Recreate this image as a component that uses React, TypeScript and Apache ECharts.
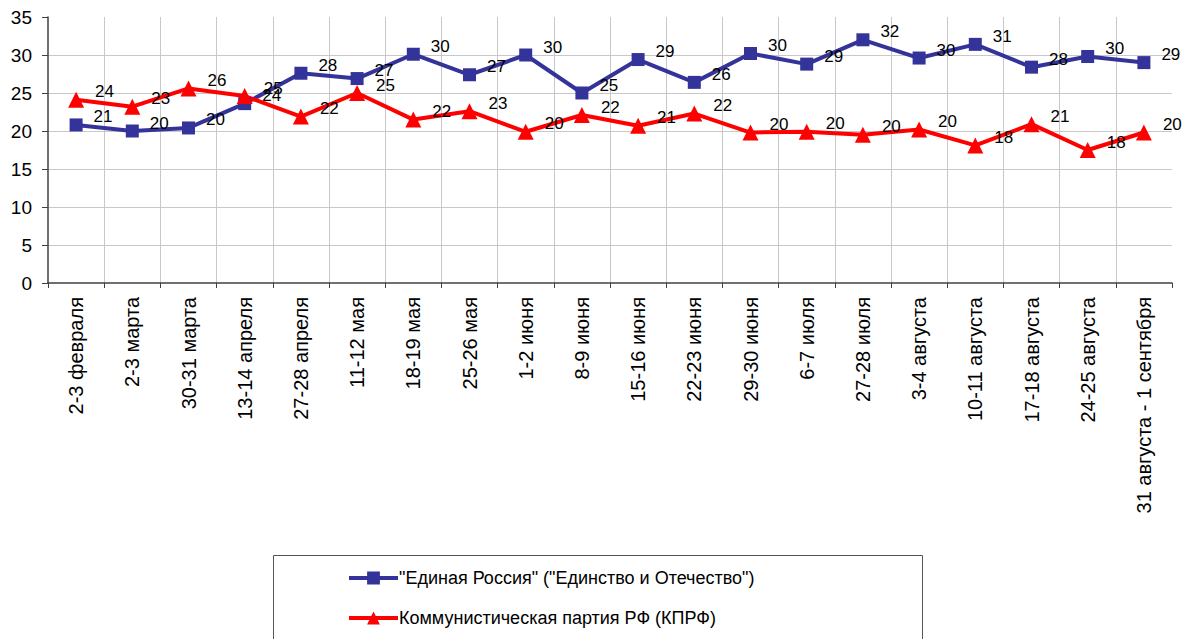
import React, { useEffect, useRef } from "react";
import * as echarts from "echarts";

const categories = [
  "2-3 февраля", "2-3 марта", "30-31 марта", "13-14 апреля", "27-28 апреля",
  "11-12 мая", "18-19 мая", "25-26 мая", "1-2 июня", "8-9 июня",
  "15-16 июня", "22-23 июня", "29-30 июня", "6-7 июля", "27-28 июля",
  "3-4 августа", "10-11 августа", "17-18 августа", "24-25 августа", "31 августа - 1 сентября",
];
const unitedRussia = [20.8, 20.0, 20.4, 23.6, 27.6, 26.9, 30.1, 27.4, 30.0, 25.0, 29.4, 26.4, 30.2, 28.8, 32.0, 29.6, 31.4, 28.4, 29.8, 29.0];
const kprf = [24.1, 23.2, 25.6, 24.6, 21.9, 25.0, 21.5, 22.6, 19.9, 22.1, 20.7, 22.3, 19.8, 19.9, 19.5, 20.2, 18.1, 20.9, 17.5, 19.8];
const seriesNames = ['"Единая Россия" ("Единство и Отечество")', "Коммунистическая партия РФ (КПРФ)"];
const yTicks = { min: 0, max: 35, interval: 5 };

export default function App() {
  const ref = useRef<HTMLDivElement>(null);
  useEffect(() => {
    const chart = echarts.init(ref.current!, null, { renderer: "svg" });
    const font = "'Liberation Sans', Arial, sans-serif";
    const labelCfg = {
      show: true,
      position: "right",
      distance: 11,
      offset: [0, -8],
      color: "#000",
      fontSize: 17,
      fontFamily: font,
      formatter: (p: any) => String(Math.round(p.value)),
    };
    chart.setOption({
      animation: false,
      backgroundColor: "#fff",
      textStyle: { fontFamily: font },
      grid: { left: 48, top: 17, width: 1124, height: 266, containLabel: false },
      xAxis: {
        type: "category",
        data: categories,
        boundaryGap: true,
        axisLine: { show: true, lineStyle: { color: "#404040", width: 1.5 } },
        axisTick: { show: true, length: 5, alignWithLabel: false, lineStyle: { color: "#404040" } },
        axisLabel: { rotate: 90, interval: 0, margin: 14, color: "#000", fontSize: 20, fontFamily: font },
        splitLine: { show: true, showMinLine: false, showMaxLine: false, lineStyle: { color: "#c8c8c8", width: 1 } },
      },
      yAxis: {
        type: "value",
        min: yTicks.min,
        max: yTicks.max,
        interval: yTicks.interval,
        axisLine: { show: true, lineStyle: { color: "#404040", width: 1.5 } },
        axisTick: { show: true, length: 6, lineStyle: { color: "#404040" } },
        axisLabel: { margin: 16, color: "#000", fontSize: 19, fontFamily: font },
        splitLine: { show: true, showMinLine: false, showMaxLine: false, lineStyle: { color: "#c8c8c8", width: 1 } },
      },
      legend: {
        orient: "vertical",
        left: 347,
        top: 569,
        padding: 0,
        itemWidth: 49,
        itemHeight: 16,
        itemGap: 22,
        lineStyle: { width: 4 },
        textStyle: { color: "#000", fontSize: 18, fontFamily: font, padding: [0, 0, 0, -4] },
        data: seriesNames,
      },
      graphic: [
        {
          type: "rect",
          shape: { x: 273.5, y: 555.5, width: 649, height: 120 },
          style: { fill: "none", stroke: "#555", lineWidth: 1 },
          z: 0,
        },
      ],
      series: [
        {
          name: seriesNames[0],
          type: "line",
          data: unitedRussia,
          symbol: "rect",
          symbolSize: 13,
          itemStyle: { color: "#333399" },
          lineStyle: { color: "#333399", width: 4 },
          label: labelCfg,
        },
        {
          name: seriesNames[1],
          type: "line",
          data: kprf,
          symbol: "triangle",
          symbolSize: 16,
          itemStyle: { color: "#ff0000" },
          lineStyle: { color: "#ff0000", width: 4 },
          label: labelCfg,
        },
      ],
    });
    return () => chart.dispose();
  }, []);
  return <div ref={ref} style={{ position: "fixed", left: 0, top: 0, width: 1189, height: 639 }} />;
}
